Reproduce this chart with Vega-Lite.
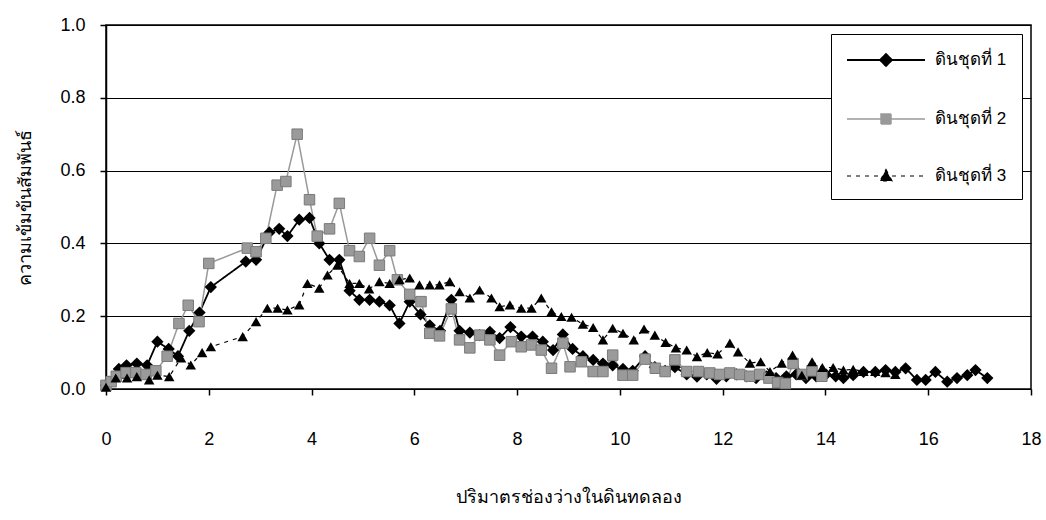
{
  "$schema": "https://vega.github.io/schema/vega-lite/v6.json",
  "autosize": "none",
  "width": 925,
  "height": 364,
  "padding": {"left": 106, "top": 25, "right": 15, "bottom": 131},
  "background": "white",
  "config": {
    "font": "Liberation Sans",
    "view": {"stroke": "black", "strokeWidth": 1.5},
    "axis": {
      "domainColor": "black",
      "tickColor": "black",
      "labelColor": "black",
      "titleColor": "black",
      "labelFont": "Liberation Sans",
      "labelFontSize": 18,
      "titleFontWeight": "normal",
      "titleFontSize": 18
    }
  },
  "data": {
    "values": [
      {"s": "ดินชุดที่ 1", "x": 0, "y": 0.01},
      {"s": "ดินชุดที่ 1", "x": 0.06, "y": 0.02},
      {"s": "ดินชุดที่ 1", "x": 0.25, "y": 0.055},
      {"s": "ดินชุดที่ 1", "x": 0.4, "y": 0.065},
      {"s": "ดินชุดที่ 1", "x": 0.6, "y": 0.07},
      {"s": "ดินชุดที่ 1", "x": 0.8, "y": 0.065},
      {"s": "ดินชุดที่ 1", "x": 1.0, "y": 0.13},
      {"s": "ดินชุดที่ 1", "x": 1.22, "y": 0.11},
      {"s": "ดินชุดที่ 1", "x": 1.4, "y": 0.09},
      {"s": "ดินชุดที่ 1", "x": 1.62, "y": 0.16},
      {"s": "ดินชุดที่ 1", "x": 1.82, "y": 0.21},
      {"s": "ดินชุดที่ 1", "x": 2.04, "y": 0.28},
      {"s": "ดินชุดที่ 1", "x": 2.72, "y": 0.35},
      {"s": "ดินชุดที่ 1", "x": 2.92, "y": 0.355},
      {"s": "ดินชุดที่ 1", "x": 3.18, "y": 0.43},
      {"s": "ดินชุดที่ 1", "x": 3.37, "y": 0.44},
      {"s": "ดินชุดที่ 1", "x": 3.53, "y": 0.42},
      {"s": "ดินชุดที่ 1", "x": 3.76, "y": 0.465},
      {"s": "ดินชุดที่ 1", "x": 3.96, "y": 0.47},
      {"s": "ดินชุดที่ 1", "x": 4.15, "y": 0.4},
      {"s": "ดินชุดที่ 1", "x": 4.35, "y": 0.355},
      {"s": "ดินชุดที่ 1", "x": 4.54, "y": 0.355},
      {"s": "ดินชุดที่ 1", "x": 4.74, "y": 0.27},
      {"s": "ดินชุดที่ 1", "x": 4.93, "y": 0.245},
      {"s": "ดินชุดที่ 1", "x": 5.13, "y": 0.245},
      {"s": "ดินชุดที่ 1", "x": 5.32, "y": 0.24},
      {"s": "ดินชุดที่ 1", "x": 5.52, "y": 0.23},
      {"s": "ดินชุดที่ 1", "x": 5.71, "y": 0.18},
      {"s": "ดินชุดที่ 1", "x": 5.91, "y": 0.24},
      {"s": "ดินชุดที่ 1", "x": 6.12, "y": 0.205},
      {"s": "ดินชุดที่ 1", "x": 6.3, "y": 0.175},
      {"s": "ดินชุดที่ 1", "x": 6.5, "y": 0.16},
      {"s": "ดินชุดที่ 1", "x": 6.72, "y": 0.245},
      {"s": "ดินชุดที่ 1", "x": 6.88, "y": 0.16},
      {"s": "ดินชุดที่ 1", "x": 7.08, "y": 0.155},
      {"s": "ดินชุดที่ 1", "x": 7.27, "y": 0.148},
      {"s": "ดินชุดที่ 1", "x": 7.47, "y": 0.157},
      {"s": "ดินชุดที่ 1", "x": 7.66, "y": 0.14},
      {"s": "ดินชุดที่ 1", "x": 7.87, "y": 0.17},
      {"s": "ดินชุดที่ 1", "x": 8.08, "y": 0.144},
      {"s": "ดินชุดที่ 1", "x": 8.3, "y": 0.144},
      {"s": "ดินชุดที่ 1", "x": 8.5, "y": 0.13},
      {"s": "ดินชุดที่ 1", "x": 8.7, "y": 0.107},
      {"s": "ดินชุดที่ 1", "x": 8.89, "y": 0.15},
      {"s": "ดินชุดที่ 1", "x": 9.08, "y": 0.11},
      {"s": "ดินชุดที่ 1", "x": 9.28, "y": 0.09},
      {"s": "ดินชุดที่ 1", "x": 9.48, "y": 0.08},
      {"s": "ดินชุดที่ 1", "x": 9.67, "y": 0.07},
      {"s": "ดินชุดที่ 1", "x": 9.86, "y": 0.065},
      {"s": "ดินชุดที่ 1", "x": 10.06, "y": 0.055},
      {"s": "ดินชุดที่ 1", "x": 10.25, "y": 0.05},
      {"s": "ดินชุดที่ 1", "x": 10.49, "y": 0.09},
      {"s": "ดินชุดที่ 1", "x": 10.68, "y": 0.06},
      {"s": "ดินชุดที่ 1", "x": 10.88, "y": 0.05},
      {"s": "ดินชุดที่ 1", "x": 11.07, "y": 0.06},
      {"s": "ดินชุดที่ 1", "x": 11.3, "y": 0.04},
      {"s": "ดินชุดที่ 1", "x": 11.5, "y": 0.034},
      {"s": "ดินชุดที่ 1", "x": 11.69, "y": 0.04},
      {"s": "ดินชุดที่ 1", "x": 11.88, "y": 0.028},
      {"s": "ดินชุดที่ 1", "x": 12.07, "y": 0.035},
      {"s": "ดินชุดที่ 1", "x": 12.27, "y": 0.04},
      {"s": "ดินชุดที่ 1", "x": 12.46, "y": 0.035},
      {"s": "ดินชุดที่ 1", "x": 12.65, "y": 0.03},
      {"s": "ดินชุดที่ 1", "x": 12.85, "y": 0.035},
      {"s": "ดินชุดที่ 1", "x": 13.04, "y": 0.03},
      {"s": "ดินชุดที่ 1", "x": 13.24, "y": 0.035},
      {"s": "ดินชุดที่ 1", "x": 13.43, "y": 0.04},
      {"s": "ดินชุดที่ 1", "x": 13.62, "y": 0.03},
      {"s": "ดินชุดที่ 1", "x": 13.82, "y": 0.035},
      {"s": "ดินชุดที่ 1", "x": 14.01, "y": 0.04},
      {"s": "ดินชุดที่ 1", "x": 14.2, "y": 0.035},
      {"s": "ดินชุดที่ 1", "x": 14.35, "y": 0.03},
      {"s": "ดินชุดที่ 1", "x": 14.54, "y": 0.038},
      {"s": "ดินชุดที่ 1", "x": 14.74, "y": 0.047},
      {"s": "ดินชุดที่ 1", "x": 14.97, "y": 0.047},
      {"s": "ดินชุดที่ 1", "x": 15.17, "y": 0.052},
      {"s": "ดินชุดที่ 1", "x": 15.36, "y": 0.047},
      {"s": "ดินชุดที่ 1", "x": 15.56, "y": 0.057},
      {"s": "ดินชุดที่ 1", "x": 15.78, "y": 0.025},
      {"s": "ดินชุดที่ 1", "x": 15.95, "y": 0.025},
      {"s": "ดินชุดที่ 1", "x": 16.14, "y": 0.047},
      {"s": "ดินชุดที่ 1", "x": 16.37, "y": 0.02},
      {"s": "ดินชุดที่ 1", "x": 16.56, "y": 0.03},
      {"s": "ดินชุดที่ 1", "x": 16.76, "y": 0.038},
      {"s": "ดินชุดที่ 1", "x": 16.92, "y": 0.052},
      {"s": "ดินชุดที่ 1", "x": 17.15, "y": 0.03},

      {"s": "ดินชุดที่ 2", "x": 0, "y": 0.01},
      {"s": "ดินชุดที่ 2", "x": 0.1, "y": 0.02},
      {"s": "ดินชุดที่ 2", "x": 0.2, "y": 0.035},
      {"s": "ดินชุดที่ 2", "x": 0.39, "y": 0.045},
      {"s": "ดินชุดที่ 2", "x": 0.58, "y": 0.045},
      {"s": "ดินชุดที่ 2", "x": 0.78, "y": 0.04},
      {"s": "ดินชุดที่ 2", "x": 0.97, "y": 0.05},
      {"s": "ดินชุดที่ 2", "x": 1.19, "y": 0.09},
      {"s": "ดินชุดที่ 2", "x": 1.42, "y": 0.18},
      {"s": "ดินชุดที่ 2", "x": 1.6, "y": 0.23},
      {"s": "ดินชุดที่ 2", "x": 1.81, "y": 0.185},
      {"s": "ดินชุดที่ 2", "x": 2.0, "y": 0.345},
      {"s": "ดินชุดที่ 2", "x": 2.75, "y": 0.387},
      {"s": "ดินชุดที่ 2", "x": 2.92, "y": 0.377},
      {"s": "ดินชุดที่ 2", "x": 3.11, "y": 0.414},
      {"s": "ดินชุดที่ 2", "x": 3.33, "y": 0.56},
      {"s": "ดินชุดที่ 2", "x": 3.5, "y": 0.57},
      {"s": "ดินชุดที่ 2", "x": 3.72, "y": 0.7},
      {"s": "ดินชุดที่ 2", "x": 3.96, "y": 0.52},
      {"s": "ดินชุดที่ 2", "x": 4.11, "y": 0.42},
      {"s": "ดินชุดที่ 2", "x": 4.35, "y": 0.44},
      {"s": "ดินชุดที่ 2", "x": 4.54, "y": 0.51},
      {"s": "ดินชุดที่ 2", "x": 4.74, "y": 0.38},
      {"s": "ดินชุดที่ 2", "x": 4.93, "y": 0.364},
      {"s": "ดินชุดที่ 2", "x": 5.13, "y": 0.414},
      {"s": "ดินชุดที่ 2", "x": 5.32, "y": 0.34},
      {"s": "ดินชุดที่ 2", "x": 5.52, "y": 0.38},
      {"s": "ดินชุดที่ 2", "x": 5.67, "y": 0.3},
      {"s": "ดินชุดที่ 2", "x": 5.91, "y": 0.26},
      {"s": "ดินชุดที่ 2", "x": 6.13, "y": 0.24},
      {"s": "ดินชุดที่ 2", "x": 6.3, "y": 0.153},
      {"s": "ดินชุดที่ 2", "x": 6.49, "y": 0.146},
      {"s": "ดินชุดที่ 2", "x": 6.72, "y": 0.22},
      {"s": "ดินชุดที่ 2", "x": 6.88, "y": 0.135},
      {"s": "ดินชุดที่ 2", "x": 7.08, "y": 0.113},
      {"s": "ดินชุดที่ 2", "x": 7.27, "y": 0.148},
      {"s": "ดินชุดที่ 2", "x": 7.47, "y": 0.135},
      {"s": "ดินชุดที่ 2", "x": 7.66, "y": 0.093},
      {"s": "ดินชุดที่ 2", "x": 7.89, "y": 0.13},
      {"s": "ดินชุดที่ 2", "x": 8.08, "y": 0.116},
      {"s": "ดินชุดที่ 2", "x": 8.28, "y": 0.121},
      {"s": "ดินชุดที่ 2", "x": 8.47, "y": 0.107},
      {"s": "ดินชุดที่ 2", "x": 8.67, "y": 0.057},
      {"s": "ดินชุดที่ 2", "x": 8.89, "y": 0.126},
      {"s": "ดินชุดที่ 2", "x": 9.03, "y": 0.061},
      {"s": "ดินชุดที่ 2", "x": 9.25, "y": 0.075},
      {"s": "ดินชุดที่ 2", "x": 9.48, "y": 0.048},
      {"s": "ดินชุดที่ 2", "x": 9.67, "y": 0.048},
      {"s": "ดินชุดที่ 2", "x": 9.86, "y": 0.093},
      {"s": "ดินชุดที่ 2", "x": 10.06, "y": 0.038},
      {"s": "ดินชุดที่ 2", "x": 10.25, "y": 0.038},
      {"s": "ดินชุดที่ 2", "x": 10.49, "y": 0.082},
      {"s": "ดินชุดที่ 2", "x": 10.69, "y": 0.057},
      {"s": "ดินชุดที่ 2", "x": 10.88, "y": 0.048},
      {"s": "ดินชุดที่ 2", "x": 11.07, "y": 0.08},
      {"s": "ดินชุดที่ 2", "x": 11.3, "y": 0.048},
      {"s": "ดินชุดที่ 2", "x": 11.53, "y": 0.048},
      {"s": "ดินชุดที่ 2", "x": 11.75, "y": 0.044},
      {"s": "ดินชุดที่ 2", "x": 11.94, "y": 0.04},
      {"s": "ดินชุดที่ 2", "x": 12.14, "y": 0.044},
      {"s": "ดินชุดที่ 2", "x": 12.33, "y": 0.04},
      {"s": "ดินชุดที่ 2", "x": 12.53, "y": 0.035},
      {"s": "ดินชุดที่ 2", "x": 12.72, "y": 0.04},
      {"s": "ดินชุดที่ 2", "x": 12.9, "y": 0.03},
      {"s": "ดินชุดที่ 2", "x": 13.07, "y": 0.018},
      {"s": "ดินชุดที่ 2", "x": 13.22, "y": 0.015},
      {"s": "ดินชุดที่ 2", "x": 13.37, "y": 0.07},
      {"s": "ดินชุดที่ 2", "x": 13.55, "y": 0.04},
      {"s": "ดินชุดที่ 2", "x": 13.74, "y": 0.05},
      {"s": "ดินชุดที่ 2", "x": 13.93, "y": 0.035},

      {"s": "ดินชุดที่ 3", "x": 0, "y": 0.005},
      {"s": "ดินชุดที่ 3", "x": 0.19, "y": 0.03},
      {"s": "ดินชุดที่ 3", "x": 0.41, "y": 0.03},
      {"s": "ดินชุดที่ 3", "x": 0.6, "y": 0.034},
      {"s": "ดินชุดที่ 3", "x": 0.84, "y": 0.025},
      {"s": "ดินชุดที่ 3", "x": 1.0, "y": 0.038},
      {"s": "ดินชุดที่ 3", "x": 1.23, "y": 0.034},
      {"s": "ดินชุดที่ 3", "x": 1.46, "y": 0.085},
      {"s": "ดินชุดที่ 3", "x": 1.65, "y": 0.066},
      {"s": "ดินชุดที่ 3", "x": 1.87, "y": 0.1},
      {"s": "ดินชุดที่ 3", "x": 2.04, "y": 0.116},
      {"s": "ดินชุดที่ 3", "x": 2.66, "y": 0.144},
      {"s": "ดินชุดที่ 3", "x": 2.92, "y": 0.185},
      {"s": "ดินชุดที่ 3", "x": 3.14, "y": 0.222},
      {"s": "ดินชุดที่ 3", "x": 3.34, "y": 0.222},
      {"s": "ดินชุดที่ 3", "x": 3.53, "y": 0.217},
      {"s": "ดินชุดที่ 3", "x": 3.76, "y": 0.231},
      {"s": "ดินชุดที่ 3", "x": 3.92, "y": 0.29},
      {"s": "ดินชุดที่ 3", "x": 4.15, "y": 0.277},
      {"s": "ดินชุดที่ 3", "x": 4.31, "y": 0.313},
      {"s": "ดินชุดที่ 3", "x": 4.5, "y": 0.34},
      {"s": "ดินชุดที่ 3", "x": 4.74, "y": 0.29},
      {"s": "ดินชุดที่ 3", "x": 4.93, "y": 0.29},
      {"s": "ดินชุดที่ 3", "x": 5.12, "y": 0.275},
      {"s": "ดินชุดที่ 3", "x": 5.32, "y": 0.295},
      {"s": "ดินชุดที่ 3", "x": 5.52, "y": 0.29},
      {"s": "ดินชุดที่ 3", "x": 5.71, "y": 0.3},
      {"s": "ดินชุดที่ 3", "x": 5.91, "y": 0.305},
      {"s": "ดินชุดที่ 3", "x": 6.1, "y": 0.286},
      {"s": "ดินชุดที่ 3", "x": 6.3, "y": 0.286},
      {"s": "ดินชุดที่ 3", "x": 6.49, "y": 0.286},
      {"s": "ดินชุดที่ 3", "x": 6.69, "y": 0.295},
      {"s": "ดินชุดที่ 3", "x": 6.88, "y": 0.267},
      {"s": "ดินชุดที่ 3", "x": 7.08, "y": 0.25},
      {"s": "ดินชุดที่ 3", "x": 7.27, "y": 0.272},
      {"s": "ดินชุดที่ 3", "x": 7.5, "y": 0.25},
      {"s": "ดินชุดที่ 3", "x": 7.66, "y": 0.226},
      {"s": "ดินชุดที่ 3", "x": 7.86, "y": 0.231},
      {"s": "ดินชุดที่ 3", "x": 8.08, "y": 0.222},
      {"s": "ดินชุดที่ 3", "x": 8.28, "y": 0.222},
      {"s": "ดินชุดที่ 3", "x": 8.47, "y": 0.25},
      {"s": "ดินชุดที่ 3", "x": 8.67, "y": 0.212},
      {"s": "ดินชุดที่ 3", "x": 8.86, "y": 0.199},
      {"s": "ดินชุดที่ 3", "x": 9.06, "y": 0.197},
      {"s": "ดินชุดที่ 3", "x": 9.28, "y": 0.178},
      {"s": "ดินชุดที่ 3", "x": 9.48, "y": 0.169},
      {"s": "ดินชุดที่ 3", "x": 9.67, "y": 0.135},
      {"s": "ดินชุดที่ 3", "x": 9.86, "y": 0.167},
      {"s": "ดินชุดที่ 3", "x": 10.06, "y": 0.153},
      {"s": "ดินชุดที่ 3", "x": 10.27, "y": 0.135},
      {"s": "ดินชุดที่ 3", "x": 10.47, "y": 0.165},
      {"s": "ดินชุดที่ 3", "x": 10.68, "y": 0.148},
      {"s": "ดินชุดที่ 3", "x": 10.89, "y": 0.128},
      {"s": "ดินชุดที่ 3", "x": 11.09, "y": 0.113},
      {"s": "ดินชุดที่ 3", "x": 11.3, "y": 0.107},
      {"s": "ดินชุดที่ 3", "x": 11.5, "y": 0.089},
      {"s": "ดินชุดที่ 3", "x": 11.7, "y": 0.1},
      {"s": "ดินชุดที่ 3", "x": 11.9, "y": 0.096},
      {"s": "ดินชุดที่ 3", "x": 12.14, "y": 0.126},
      {"s": "ดินชุดที่ 3", "x": 12.3, "y": 0.102},
      {"s": "ดินชุดที่ 3", "x": 12.53, "y": 0.071},
      {"s": "ดินชุดที่ 3", "x": 12.74, "y": 0.075},
      {"s": "ดินชุดที่ 3", "x": 12.92, "y": 0.048},
      {"s": "ดินชุดที่ 3", "x": 13.15, "y": 0.071},
      {"s": "ดินชุดที่ 3", "x": 13.36, "y": 0.093},
      {"s": "ดินชุดที่ 3", "x": 13.54, "y": 0.038},
      {"s": "ดินชุดที่ 3", "x": 13.74, "y": 0.075},
      {"s": "ดินชุดที่ 3", "x": 13.94, "y": 0.059},
      {"s": "ดินชุดที่ 3", "x": 14.15, "y": 0.059},
      {"s": "ดินชุดที่ 3", "x": 14.35, "y": 0.052},
      {"s": "ดินชุดที่ 3", "x": 14.54, "y": 0.054},
      {"s": "ดินชุดที่ 3", "x": 14.74, "y": 0.048},
      {"s": "ดินชุดที่ 3", "x": 14.97, "y": 0.048},
      {"s": "ดินชุดที่ 3", "x": 15.17, "y": 0.045},
      {"s": "ดินชุดที่ 3", "x": 15.36, "y": 0.04}
    ]
  },
  "encoding": {
    "x": {
      "field": "x",
      "type": "quantitative",
      "scale": {"domain": [0, 18], "nice": false, "zero": false},
      "axis": {
        "title": "ปริมาตรช่องว่างในดินทดลอง",
        "values": [0, 2, 4, 6, 8, 10, 12, 14, 16, 18],
        "grid": false,
        "domain": false,
        "tickSize": 6,
        "tickWidth": 1.5,
        "labelPadding": 35,
        "titlePadding": 40,
        "labelFlush": false
      }
    },
    "y": {
      "field": "y",
      "type": "quantitative",
      "scale": {"domain": [0, 1], "nice": false},
      "axis": {
        "title": "ความเข้มข้นสัมพันธ์",
        "values": [0, 0.2, 0.4, 0.6, 0.8, 1.0],
        "format": ".1f",
        "grid": true,
        "gridColor": "black",
        "gridWidth": 1.2,
        "gridOpacity": 1,
        "domainWidth": 1.5,
        "tickSize": 6,
        "tickWidth": 1.5,
        "labelPadding": 15,
        "titlePadding": 25
      }
    }
  },
  "layer": [
    {
      "mark": {"type": "line", "interpolate": "linear"},
      "encoding": {
        "detail": {"field": "s"},
        "color": {
          "field": "s",
          "type": "nominal",
          "scale": {
            "domain": ["ดินชุดที่ 1", "ดินชุดที่ 2", "ดินชุดที่ 3"],
            "range": ["#000000", "#999999", "#000000"]
          },
          "legend": {
            "title": null,
            "orient": "top-right",
            "offset": 9,
            "fillColor": "white",
            "strokeColor": "black",
            "padding": 15,
            "rowPadding": 38,
            "symbolSize": 400,
            "symbolStrokeWidth": 1.5,
            "labelFontSize": 17,
            "labelColor": "black",
            "labelOffset": 67,
            "encode": {
              "symbols": {
                "update": {
                  "shape": {"signal": "datum.value === 'ดินชุดที่ 1' ? 'M-1,0H6.8M2.9,-0.6L3.5,0L2.9,0.6L2.3,0Z' : datum.value === 'ดินชุดที่ 2' ? 'M-1,0H6.8M2.4,-0.5H3.4V0.5H2.4Z' : 'M-1,0H6.8M2.9,-0.65L3.5,0.5H2.3Z'"},
                  "fill": {"signal": "datum.value === 'ดินชุดที่ 2' ? '#999999' : '#000000'"}
                }
              }
            }
          }
        },
        "strokeDash": {
          "field": "s",
          "type": "nominal",
          "scale": {
            "domain": ["ดินชุดที่ 1", "ดินชุดที่ 2", "ดินชุดที่ 3"],
            "range": [[1, 0], [1, 0], [4, 5]]
          }
        },
        "strokeWidth": {
          "field": "s",
          "type": "nominal",
          "scale": {
            "domain": ["ดินชุดที่ 1", "ดินชุดที่ 2", "ดินชุดที่ 3"],
            "range": [1.8, 1.2, 1.8]
          },
          "legend": null
        }
      }
    },
    {
      "transform": [{"filter": "datum.s === 'ดินชุดที่ 1'"}],
      "mark": {"type": "point", "shape": "diamond", "filled": true, "size": 150, "color": "#000000", "opacity": 1}
    },
    {
      "transform": [{"filter": "datum.s === 'ดินชุดที่ 2'"}],
      "mark": {"type": "point", "shape": "square", "filled": true, "size": 110, "fill": "#9a9a9a", "stroke": "#7a7a7a", "strokeWidth": 1, "opacity": 1}
    },
    {
      "transform": [{"filter": "datum.s === 'ดินชุดที่ 3'"}],
      "mark": {"type": "point", "shape": "triangle-up", "filled": true, "size": 110, "color": "#000000", "opacity": 1}
    }
  ]
}
